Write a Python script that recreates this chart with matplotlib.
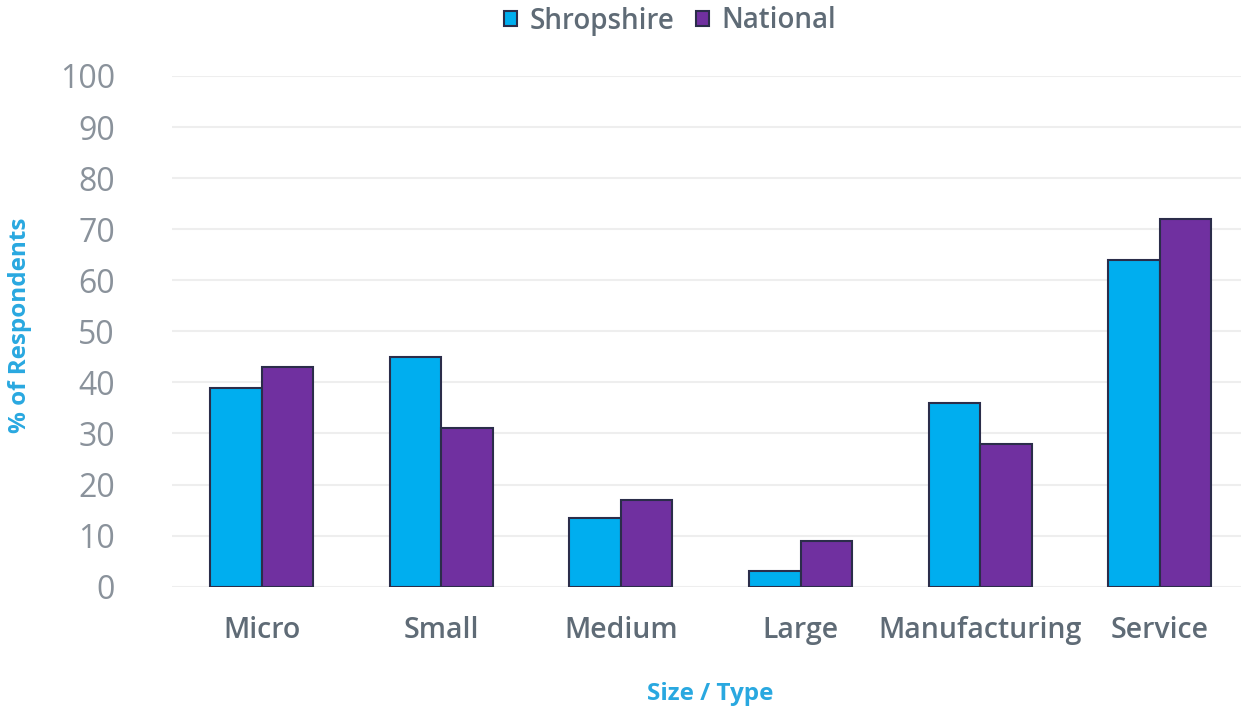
import numpy as np
import matplotlib.pyplot as plt
from matplotlib.patches import Patch

categories = ['Micro', 'Small', 'Medium', 'Large', 'Manufacturing', 'Service']
shropshire = [39, 45, 13.5, 3, 36, 64]
national = [43, 31, 17, 9, 28, 72]
yticks = [0, 10, 20, 30, 40, 50, 60, 70, 80, 90, 100]

cyan = '#00AEEF'
purple = '#7030A0'
edge = '#2B2D4A'
label_grey = '#5F6B76'
tick_grey = '#8A929B'

plt.rcParams['font.family'] = ['Open Sans', 'DejaVu Sans']

fig = plt.figure(figsize=(12.41, 7.09), dpi=100)
ax = fig.add_axes([172 / 1241, (709 - 586.7) / 709, (1249.5 - 172) / 1241, (586.7 - 76) / 709])

x = np.arange(len(categories))
w = 0.287
ax.bar(x - w / 2, shropshire, w, color=cyan, edgecolor=edge, linewidth=1.5, zorder=3)
ax.bar(x + w / 2, national, w, color=purple, edgecolor=edge, linewidth=1.5, zorder=3)

ax.set_xlim(-0.5, len(categories) - 0.5)
ax.set_ylim(0, 100)
ax.set_yticks(yticks)
ax.set_xticks(x)
ax.set_xticklabels(categories, fontsize=20.5, fontweight='semibold', color=label_grey)
ax.set_yticklabels([str(t) for t in yticks], fontsize=23, color=tick_grey)
ax.tick_params(axis='y', length=0, pad=41)
ax.tick_params(axis='x', length=0, pad=21)
ax.grid(axis='y', color='#EEEEEE', linewidth=1.5, zorder=0)
for s in ax.spines.values():
    s.set_visible(False)

fig.text(710 / 1241, 1 - 694 / 709, 'Size / Type', ha='center', va='center',
         fontsize=17.5, fontweight='bold', color='#29A8E0')
fig.text(20 / 1241, 1 - 325 / 709, '% of Respondents', ha='center', va='center',
         rotation=90, fontsize=17.5, fontweight='bold', color='#29A8E0')

handles = [Patch(facecolor=cyan, edgecolor=edge, linewidth=1.5),
           Patch(facecolor=purple, edgecolor=edge, linewidth=1.5)]
fig.legend(handles, ['Shropshire', 'National'], loc='center', bbox_to_anchor=(670 / 1241, 1 - 21 / 709),
           ncol=2, frameon=False, labelcolor=label_grey,
           handlelength=0.45, handleheight=0.45, handletextpad=0.45, columnspacing=0.8,
           prop={'weight': 'semibold', 'size': 20})

fig.savefig('out.png', dpi=100)
